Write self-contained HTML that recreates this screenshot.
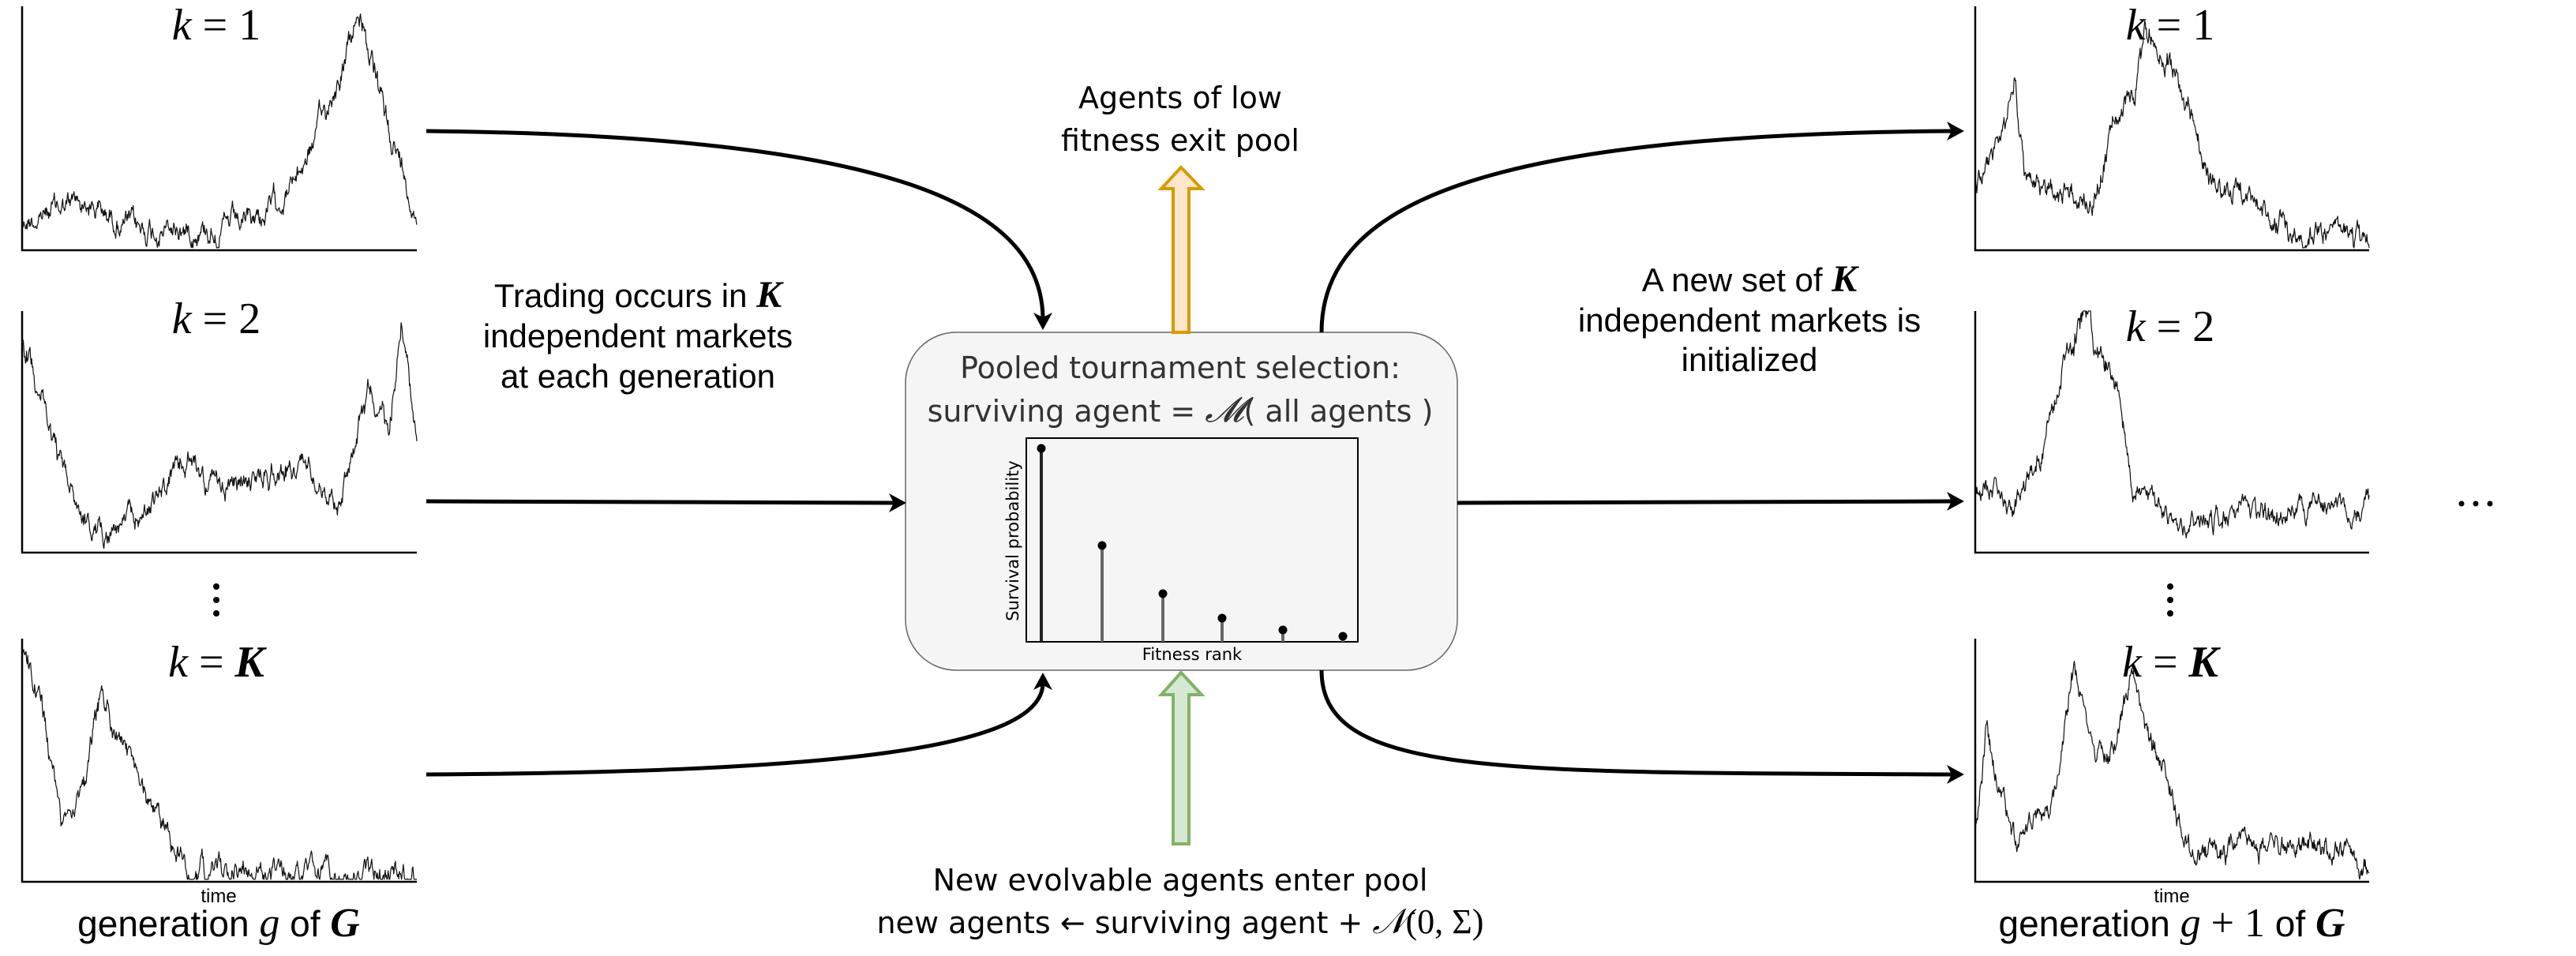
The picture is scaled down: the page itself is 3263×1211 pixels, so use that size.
<!DOCTYPE html>
<html><head><meta charset="utf-8">
<style>
html,body{margin:0;padding:0;background:#fff;}
svg{display:block;}
.s{font-family:"Liberation Sans",sans-serif;}
.m{font-family:"Liberation Serif",serif;}
</style></head>
<body>
<svg id="svg" width="3263" height="1211" viewBox="0 0 3263 1211" xmlns="http://www.w3.org/2000/svg">
<g id="charts" fill="none" stroke="#111" stroke-width="1.2" stroke-linejoin="round"></g>
<g stroke="#000" stroke-width="2.5" fill="none">
<path d="M28 8 V317 H528"/><path d="M28 394 V700 H528"/><path d="M28 809 V1117 H528"/>
<path d="M2502 8 V317 H3001"/><path d="M2502 394 V700 H3001"/><path d="M2502 809 V1117 H3001"/>
</g>
<g class="m" font-size="56" text-anchor="middle" fill="#000">
<text x="274" y="50"><tspan font-style="italic">k</tspan> <tspan>=</tspan> 1</text>
<text x="274" y="422"><tspan font-style="italic">k</tspan> = 2</text>
<text x="274" y="857"><tspan font-style="italic">k</tspan> = <tspan font-style="italic" font-weight="bold">K</tspan></text>
<text x="2749" y="50"><tspan font-style="italic">k</tspan> = 1</text>
<text x="2749" y="432"><tspan font-style="italic">k</tspan> = 2</text>
<text x="2749" y="857"><tspan font-style="italic">k</tspan> = <tspan font-style="italic" font-weight="bold">K</tspan></text>
</g>
<g fill="#000"><circle cx="274" cy="743" r="4"/><circle cx="274" cy="760" r="4"/><circle cx="274" cy="777" r="4"/>
<circle cx="2749" cy="743" r="4"/><circle cx="2749" cy="760" r="4"/><circle cx="2749" cy="777" r="4"/>
<circle cx="3118" cy="638" r="3.5"/><circle cx="3136" cy="638" r="3.5"/><circle cx="3154" cy="638" r="3.5"/></g>
<g class="s" font-size="24" text-anchor="middle" fill="#000">
<text x="277" y="1143">time</text><text x="2751" y="1143">time</text></g>
<text x="277" y="1186" text-anchor="middle" font-size="46" class="s">generation <tspan class="m" font-style="italic" font-size="52">g</tspan> of <tspan class="m" font-style="italic" font-weight="bold" font-size="52">G</tspan></text>
<text x="2751" y="1186" text-anchor="middle" font-size="46" class="s">generation <tspan class="m" font-style="italic" font-size="52">g</tspan><tspan class="m" font-size="52"> + 1</tspan> of <tspan class="m" font-style="italic" font-weight="bold" font-size="52">G</tspan></text>
<g class="s" font-size="42" text-anchor="middle" fill="#000">
<text x="808" y="389">Trading occurs in <tspan class="m" font-style="italic" font-weight="bold" font-size="48">K</tspan></text>
<text x="808" y="440">independent markets</text>
<text x="808" y="491">at each generation</text>
<text x="2216" y="369">A new set of <tspan class="m" font-style="italic" font-weight="bold" font-size="48">K</tspan></text>
<text x="2216" y="420">independent markets is</text>
<text x="2216" y="470">initialized</text>
</g>
<g style="font-family:'DejaVu Sans',sans-serif" font-size="38" text-anchor="middle" fill="#000">
<text x="1495" y="137">Agents of low</text>
<text x="1495" y="191">fitness exit pool</text>
<text x="1495" y="1128">New evolvable agents enter pool</text>
<text x="1495" y="1182">new agents ← surviving agent + <tspan class="m" font-style="italic" font-size="44">𝒩</tspan><tspan class="m" font-size="44">(0, Σ)</tspan></text>
</g>
<rect x="1147" y="421" width="699" height="428" rx="64" ry="64" fill="#f5f5f5" stroke="#666" stroke-width="1.5"/>
<g style="font-family:'DejaVu Sans',sans-serif" font-size="38" text-anchor="middle" fill="#333">
<text x="1495" y="479">Pooled tournament selection:</text>
<text x="1495" y="534">surviving agent = <tspan class="m" font-style="italic" font-size="44">𝓜</tspan>( all agents )</text>
</g>
<rect x="1300" y="555" width="420" height="258" fill="#f5f5f5" stroke="#000" stroke-width="2"/>
<g stroke-width="4">
<line x1="1319" y1="568" x2="1319" y2="813" stroke="#222"/>
<line x1="1396" y1="691" x2="1396" y2="813" stroke="#666"/>
<line x1="1473" y1="752" x2="1473" y2="813" stroke="#666"/>
<line x1="1548" y1="783" x2="1548" y2="813" stroke="#666"/>
<line x1="1625" y1="798" x2="1625" y2="813" stroke="#666"/>
<line x1="1701" y1="806" x2="1701" y2="813" stroke="#666"/>
</g>
<g fill="#000"><circle cx="1319" cy="568" r="5.5"/><circle cx="1396" cy="691" r="5.5"/><circle cx="1473" cy="752" r="5.5"/><circle cx="1548" cy="783" r="5.5"/><circle cx="1625" cy="798" r="5.5"/><circle cx="1701" cy="806" r="5.5"/></g>
<g style="font-family:'DejaVu Sans',sans-serif" font-size="21" fill="#000" text-anchor="middle">
<text x="1510" y="836">Fitness rank</text>
<text transform="translate(1290 685) rotate(-90)">Survival probability</text>
</g>
<path d="M1486 421 V239 H1471 L1496 212 L1522 239 H1506 V421 Z" fill="#ffe6cc" stroke="#d79b00" stroke-width="4"/>
<path d="M1486 1069 V880 H1471 L1496 852 L1522 880 H1506 V1069 Z" fill="#d5e8d4" stroke="#82b366" stroke-width="4"/>
<g fill="none" stroke="#000" stroke-width="5">
<path d="M540 166 C1100 172 1321 250 1321 405"/>
<path d="M540 635 L1135 637"/>
<path d="M540 981 C1050 978 1321 950 1321 865"/>
<path d="M1674 421 C1674 250 1900 170 2475 166"/>
<path d="M1846 637 L2475 635"/>
<path d="M1674 849 C1674 985 1900 978 2475 981"/>
</g>
<g fill="#000">
<path d="M1321 418 L1309 396 L1321 402 L1333 396 Z"/>
<path d="M1148 637 L1126 625 L1132 637 L1126 649 Z"/>
<path d="M1321 852 L1309 874 L1321 868 L1333 874 Z"/>
<path d="M2488 166 L2466 154 L2472 166 L2466 178 Z"/>
<path d="M2488 635 L2466 623 L2472 635 L2466 647 Z"/>
<path d="M2488 981 L2466 969 L2472 981 L2466 993 Z"/>
</g>
</svg>
<script>
(function(){
var seed=12345;function rnd(){seed=(seed*1103515245+12345)%2147483648;return seed/2147483648;}
var charts=[
 [28,528,8,317,[[0,.88],[.15,.80],[.3,.92],[.55,.90],[.62,.85],[.7,.70],[.8,.3],[.86,.02],[.9,.35],[.95,.6],[1,.85]]],
 [28,528,394,700,[[0,.1],[.05,.35],[.1,.65],[.18,.93],[.3,.85],[.42,.62],[.5,.75],[.65,.65],[.75,.65],[.8,.8],[.88,.3],[.93,.5],[.96,.02],[1,.5]]],
 [28,528,809,1117,[[0,.05],[.05,.3],[.1,.75],[.17,.55],[.2,.22],[.25,.45],[.35,.75],[.42,.96],[.55,.94],[.58,.92],[.6,.98],[1,.97]]],
 [2502,3001,8,317,[[0,.72],[.08,.5],[.1,.3],[.13,.75],[.25,.77],[.3,.8],[.35,.5],[.4,.4],[.43,.1],[.5,.25],[.55,.45],[.6,.75],[.72,.8],[.8,.95],[.88,.9],[.95,.98],[1,.98]]],
 [2502,3001,394,700,[[0,.72],[.1,.8],[.17,.55],[.22,.25],[.28,.02],[.35,.3],[.4,.7],[.5,.88],[.7,.85],[1,.8]]],
 [2502,3001,809,1117,[[0,.8],[.03,.35],[.1,.85],[.2,.65],[.25,.1],[.3,.45],[.35,.45],[.4,.15],[.45,.45],[.5,.6],[.55,.9],[.7,.85],[.8,.85],[.9,.85],[1,.95]]]
];
var g=document.getElementById('charts');var ns='http://www.w3.org/2000/svg';
charts.forEach(function(c){
 var x0=c[0],x1=c[1],y0=c[2],y1=c[3],k=c[4],pts=[],N=700,w=0;
 for(var i=0;i<=N;i++){var t=i/N,j=0;while(j<k.length-2&&k[j+1][0]<t)j++;
  var a=k[j],b=k[j+1],u=(t-a[0])/(b[0]-a[0]||1);var v=a[1]+(b[1]-a[1])*u;
  w=w*0.85+(rnd()-0.5)*0.06;var sp=(rnd()-0.5)*0.03*(1-v*0.7);var yy=Math.min(0.99,Math.max(0,v+w+sp));
  pts.push((x0+t*(x1-x0)).toFixed(1)+','+(y0+yy*(y1-y0)).toFixed(1));}
 var p=document.createElementNS(ns,'polyline');p.setAttribute('points',pts.join(' '));g.appendChild(p);
});
})();
</script>
</body></html>
